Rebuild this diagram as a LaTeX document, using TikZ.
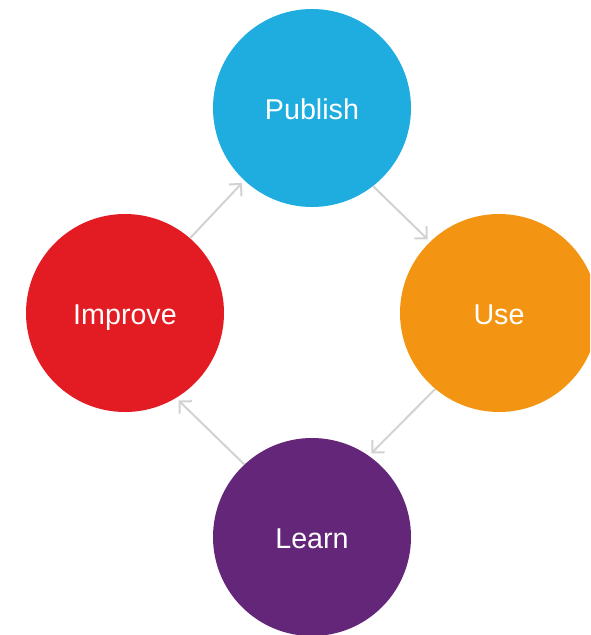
\documentclass[tikz,border=0pt]{standalone}
\usepackage{fontspec}
\setmainfont{Liberation Sans}
\usetikzlibrary{arrows.meta}
\definecolor{publishblue}{RGB}{31,173,224}
\definecolor{useorange}{RGB}{243,149,18}
\definecolor{improvered}{RGB}{227,27,35}
\definecolor{learnpurple}{RGB}{100,38,120}
\definecolor{flowgray}{RGB}{210,210,210}
\begin{document}
\begin{tikzpicture}[x=0.75pt,y=-0.75pt,
    stage/.style={shape=circle,minimum size=148.5pt,inner sep=0pt,text=white,
        text height=16.5pt,text depth=0pt,font=\fontsize{21.5}{26}\selectfont},
    flow/.style={draw=flowgray,line width=1.5pt,-{Straight Barb[length=6.5pt,width=13pt]},shorten >=2.5pt}]
    \path[use as bounding box,clip] (0,0) rectangle (590,635);

    \node[stage,fill=publishblue] (publish) at (312,108) {Publish};
    \node[stage,fill=useorange] (use) at (499,313) {Use};
    \node[stage,fill=learnpurple] (learn) at (312,537) {Learn};
    \node[stage,fill=improvered] (improve) at (125,313) {Improve};

    \path (improve.49.5) edge [flow] (publish.227.9);
    \path (publish.308.5) edge [flow] (use.134.2);
    \path (use.230) edge [flow] (learn.55.3);
    \path (learn.133) edge [flow] (improve.301.8);

\end{tikzpicture}
\end{document}
